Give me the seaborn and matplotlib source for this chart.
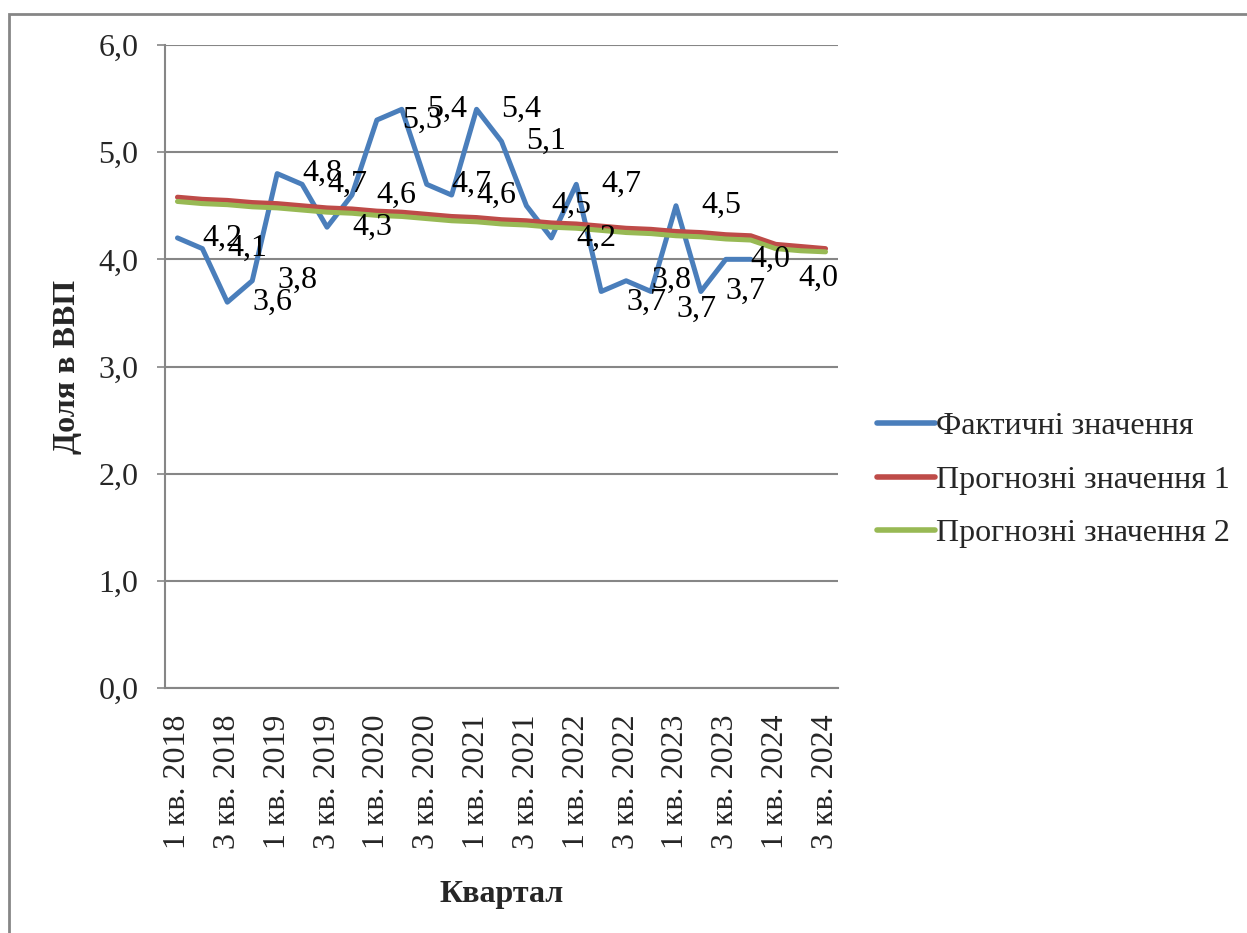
import matplotlib
matplotlib.use("Agg")
import matplotlib.pyplot as plt
import seaborn as sns
import pandas as pd
from matplotlib.patches import Rectangle
from matplotlib.lines import Line2D

# Quarters from 1 кв. 2018 to 3 кв. 2024
quarters = [f"{q} кв. {y}" for y in range(2018, 2025) for q in (1, 2, 3, 4)][:27]

actual = [4.2, 4.1, 3.6, 3.8, 4.8, 4.7, 4.3, 4.6, 5.3, 5.4, 4.7, 4.6,
          5.4, 5.1, 4.5, 4.2, 4.7, 3.7, 3.8, 3.7, 4.5, 3.7, 4.0, 4.0]

forecast_1 = [4.58, 4.56, 4.55, 4.53, 4.52, 4.50, 4.48, 4.47, 4.45, 4.44,
              4.42, 4.40, 4.39, 4.37, 4.36, 4.34, 4.33, 4.31, 4.29, 4.28,
              4.26, 4.25, 4.23, 4.22, 4.14, 4.12, 4.10]

forecast_2 = [4.54, 4.52, 4.51, 4.49, 4.48, 4.46, 4.44, 4.43, 4.41, 4.40,
              4.38, 4.36, 4.35, 4.33, 4.32, 4.30, 4.29, 4.27, 4.25, 4.24,
              4.22, 4.21, 4.19, 4.18, 4.10, 4.08, 4.07]

series_names = ["Фактичні значення", "Прогнозні значення 1", "Прогнозні значення 2"]
colors = ["#4A7EBB", "#BE4B48", "#98B954"]

sns.set_theme(style="white")
plt.rcParams["font.family"] = ["Liberation Serif", "DejaVu Serif"]
FS = 23

frames = []
for name, vals in zip(series_names, [actual, forecast_1, forecast_2]):
    frames.append(pd.DataFrame({"idx": range(len(vals)), "value": vals, "series": name}))
df = pd.concat(frames, ignore_index=True)

W, H = 1247, 933
fig = plt.figure(figsize=(W / 100, H / 100), dpi=100)
ax = fig.add_axes([165 / W, 1 - 688 / H, (838 - 165) / W, (688 - 45) / H])

# outer chart frame
fig.patches.append(Rectangle((9 / W, -0.1), 1.2, 1 - 14 / H + 0.1, transform=fig.transFigure,
                             fill=False, edgecolor="#868686", linewidth=2, zorder=0))

sns.lineplot(data=df, x="idx", y="value", hue="series", hue_order=series_names,
             palette=colors, linewidth=3.6, ax=ax, legend=False, sort=False)

ax.set_xlim(-0.5, len(quarters) - 0.5)
ax.set_ylim(0, 6)
ax.set_yticks([0, 1, 2, 3, 4, 5, 6])
ax.set_yticklabels([f"{v:.1f}".replace(".", ",") for v in range(7)], fontsize=FS)
ax.set_xticks(range(0, len(quarters), 2))
ax.set_xticklabels(quarters[::2], rotation=90, fontsize=FS)
ax.tick_params(axis="y", length=6, width=1.2, color="#868686", pad=13, left=True)
ax.tick_params(axis="x", length=0, pad=19)

ax.grid(axis="y", color="#868686", linewidth=1.5)
ax.set_axisbelow(True)
for s in ("top", "right"):
    ax.spines[s].set_visible(False)
for s in ("left", "bottom"):
    ax.spines[s].set_color("#868686")
    ax.spines[s].set_linewidth(1.5)

ax.set_ylabel("Доля в ВВП", fontsize=FS, fontweight="bold", labelpad=12)
ax.set_xlabel("Квартал", fontsize=FS, fontweight="bold", labelpad=22)

# value labels for the actual series
label_shift = {17: (0, -0.1), 19: (0, -0.17), 23: (0.93, -0.18)}
for i, v in enumerate(actual):
    dx, dy = label_shift.get(i, (0, 0))
    ax.text(i + 1.0 + dx, v + dy, f"{v:.1f}".replace(".", ","), fontsize=FS,
            ha="left", va="center", color="black")

# legend
handles = [Line2D([], [], color=c, linewidth=4, solid_capstyle="round") for c in colors]
fig.legend(handles, series_names, loc="center left", bbox_to_anchor=(877 / W, 1 - 480 / H),
           frameon=False, fontsize=FS, handlelength=1.8, handletextpad=0.05,
           labelspacing=0.75, borderpad=0, borderaxespad=0)

fig.savefig("out.png", dpi=100)
